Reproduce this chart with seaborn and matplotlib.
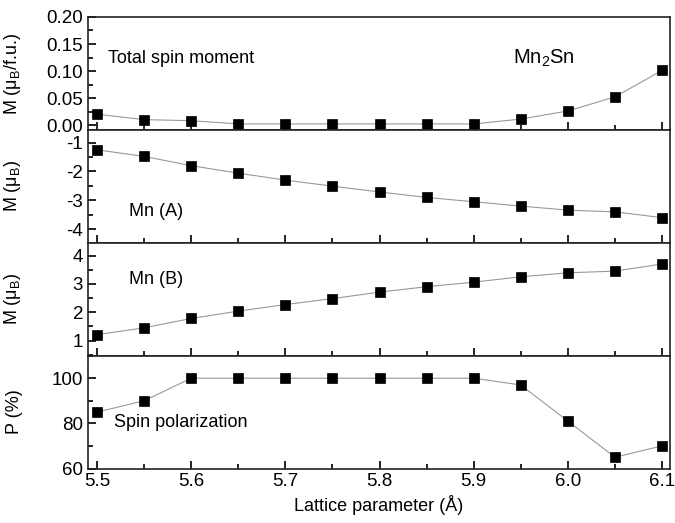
import numpy as np
import pandas as pd
import matplotlib
matplotlib.use("Agg")
import matplotlib.pyplot as plt
import seaborn as sns
from matplotlib.ticker import MultipleLocator

sns.set_style("ticks")
plt.rcParams['font.family'] = ['Liberation Sans', 'DejaVu Sans']
plt.rcParams['mathtext.fontset'] = 'custom'
plt.rcParams['mathtext.rm'] = 'Liberation Sans'
plt.rcParams['mathtext.it'] = 'Liberation Sans:italic'
plt.rcParams['mathtext.bf'] = 'Liberation Sans:bold'
plt.rcParams['axes.unicode_minus'] = False
plt.rcParams['text.color'] = 'black'
plt.rcParams['axes.labelcolor'] = 'black'
plt.rcParams['xtick.color'] = 'black'
plt.rcParams['ytick.color'] = 'black'

lattice = [5.50, 5.55, 5.60, 5.65, 5.70, 5.75, 5.80, 5.85, 5.90, 5.95, 6.00, 6.05, 6.10]
total_moment = [0.020, 0.010, 0.008, 0.002, 0.002, 0.002, 0.002, 0.002, 0.002, 0.011, 0.026, 0.052, 0.101]
mn_a = [-1.25, -1.48, -1.80, -2.06, -2.30, -2.51, -2.71, -2.90, -3.05, -3.20, -3.34, -3.40, -3.60]
mn_b = [1.21, 1.45, 1.78, 2.04, 2.27, 2.48, 2.71, 2.90, 3.06, 3.25, 3.39, 3.45, 3.70]
polarization = [85, 90, 100, 100, 100, 100, 100, 100, 100, 97, 81, 65, 70]

df = pd.DataFrame({"a": lattice, "total": total_moment, "mnA": mn_a,
                   "mnB": mn_b, "P": polarization})

fig, axes = plt.subplots(4, 1, figsize=(6.75, 5.23), dpi=100, sharex=True,
                         gridspec_kw=dict(hspace=0, left=0.1304, right=0.9926,
                                          top=0.9675, bottom=0.1042))

cols = ["total", "mnA", "mnB", "P"]
ylabels = [r"M (μ$_\mathrm{B}$/f.u.)", r"M (μ$_\mathrm{B}$)", r"M (μ$_\mathrm{B}$)", "P (%)"]
ylims = [(-0.009, 0.20), (-4.47, -0.56), (0.47, 4.45), (60, 110)]
majors = [0.05, 1, 1, 20]
minors = [0.025, 0.5, 0.5, 10]

for ax, col, yl, lim, mj, mn in zip(axes, cols, ylabels, ylims, majors, minors):
    sns.lineplot(data=df, x="a", y=col, ax=ax, color="#999999", linewidth=0.8,
                 marker="s", markersize=7, markerfacecolor="black",
                 markeredgecolor="black", markeredgewidth=0.5)
    ax.set_ylim(*lim)
    ax.set_xlim(5.4904, 6.1085)
    ax.yaxis.set_major_locator(MultipleLocator(mj))
    ax.yaxis.set_minor_locator(MultipleLocator(mn))
    ax.xaxis.set_major_locator(MultipleLocator(0.1))
    ax.xaxis.set_minor_locator(MultipleLocator(0.05))
    ax.tick_params(which="both", direction="in", top=False, right=False,
                   labelsize=13.5, width=1.2, color="black")
    ax.tick_params(which="major", length=6)
    ax.tick_params(which="minor", length=3.5)
    ax.set_ylabel(yl, fontsize=13)
    ax.set_xlabel("")
    for s in ax.spines.values():
        s.set_linewidth(1.2)
        s.set_color("#222222")

axes[0].yaxis.set_major_formatter(matplotlib.ticker.FormatStrFormatter("%.2f"))
for ax in axes:
    ax.yaxis.set_label_coords(-0.112, 0.5)

axes[0].text(0.035, 0.63, "Total spin moment", transform=axes[0].transAxes,
             fontsize=13, va="center")
axes[0].text(0.73, 0.63, r"Mn$_2$Sn", transform=axes[0].transAxes,
             fontsize=14.5, va="center")
axes[1].text(0.07, 0.28, "Mn (A)", transform=axes[1].transAxes,
             fontsize=13, va="center")
axes[2].text(0.07, 0.67, "Mn (B)", transform=axes[2].transAxes,
             fontsize=13, va="center")
axes[3].text(0.045, 0.41, "Spin polarization", transform=axes[3].transAxes,
             fontsize=13, va="center")

axes[3].set_xlabel("Lattice parameter (Å)", fontsize=13, labelpad=3)

fig.savefig("out.png", dpi=100)
